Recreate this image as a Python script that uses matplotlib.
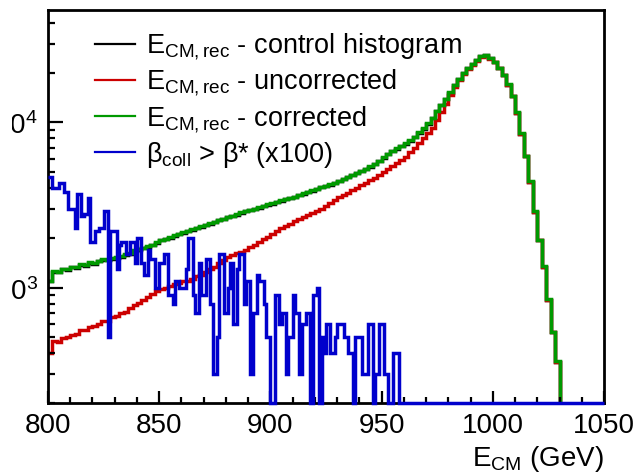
import numpy as np
import matplotlib
matplotlib.use("Agg")
import matplotlib.pyplot as plt
import matplotlib.transforms as mtransforms
from matplotlib.lines import Line2D
from matplotlib.ticker import LogLocator, MultipleLocator, NullFormatter

# E_CM histograms, 2 GeV bins from 800 to 1050 GeV
edges_2gev = np.arange(800, 1051, 2)

control = [
    1090, 1250, 1240, 1300, 1280, 1330, 1320, 1370, 1360, 1410, 1390, 1440, 1470, 1460, 1500, 1520, 1540, 1580, 1600, 1660, 1700, 1730, 1770, 1810, 1860,
    1930, 1970, 2010, 2060, 2100, 2140, 2190, 2240, 2280, 2340, 2390, 2440, 2490, 2550, 2610, 2660, 2720, 2770, 2830, 2890, 2940, 3000, 3050, 3120, 3170,
    3230, 3300, 3360, 3430, 3490, 3550, 3620, 3700, 3780, 3860, 3950, 4040, 4120, 4210, 4310, 4430, 4540, 4670, 4800, 4940, 5080, 5230, 5400, 5580, 5820,
    6100, 6400, 6700, 6950, 7200, 7450, 7750, 8150, 8650, 9150, 9850, 10650, 11700, 12750, 13850, 15150, 16750, 18350, 19850, 21250, 22550, 23950, 25150, 25450, 24550,
    23150, 21350, 19350, 16950, 14450, 11450, 8550, 6250, 4380, 2880, 1940, 1340, 845, 535, 355, 175, 0, 0, 0, 0, 0, 0, 0, 0, 0,
]

uncorrected = [
    400, 475, 470, 495, 500, 515, 525, 550, 550, 575, 585, 600, 625, 630, 660, 670, 705, 715, 750, 780, 805, 840, 875, 915, 950,
    980, 1000, 1020, 1050, 1060, 1090, 1100, 1130, 1170, 1200, 1240, 1290, 1330, 1400, 1460, 1530, 1570, 1610, 1650, 1700, 1750, 1820, 1900, 1960, 2030,
    2120, 2200, 2280, 2360, 2440, 2520, 2600, 2680, 2750, 2830, 2910, 3000, 3120, 3250, 3380, 3520, 3640, 3760, 3880, 4030, 4180, 4320, 4460, 4620, 4800,
    5000, 5200, 5450, 5700, 5900, 6200, 6600, 7000, 7500, 8000, 8600, 9300, 10300, 11500, 12900, 14600, 16400, 18100, 19700, 21100, 22400, 23700, 24900, 25200, 24400,
    23100, 21300, 19300, 16900, 14400, 11450, 8550, 6250, 4380, 2880, 1940, 1340, 845, 535, 355, 175, 0, 0, 0, 0, 0, 0, 0, 0, 0,
]

corrected = [
    1100, 1260, 1250, 1300, 1290, 1340, 1330, 1380, 1370, 1420, 1400, 1450, 1480, 1470, 1520, 1540, 1560, 1600, 1610, 1680, 1720, 1740, 1790, 1820, 1880,
    1950, 1980, 2030, 2080, 2110, 2160, 2200, 2260, 2290, 2360, 2400, 2460, 2500, 2570, 2620, 2680, 2730, 2780, 2850, 2900, 2950, 3010, 3070, 3130, 3190,
    3240, 3320, 3380, 3440, 3500, 3560, 3640, 3720, 3800, 3880, 3970, 4060, 4140, 4230, 4330, 4450, 4560, 4690, 4820, 4960, 5100, 5250, 5420, 5600, 5850,
    6150, 6450, 6750, 7000, 7250, 7500, 7800, 8200, 8700, 9200, 9900, 10700, 11800, 12800, 13900, 15200, 16800, 18400, 19900, 21300, 22600, 24000, 25200, 25500, 24600,
    23200, 21400, 19400, 17000, 14500, 11500, 8600, 6300, 4400, 2900, 1950, 1350, 850, 540, 360, 180, 0, 0, 0, 0, 0, 0, 0, 0, 0,
]

# beta_coll > beta* counts in 1 GeV bins from 800 GeV (in units of 100, i.e. x100 scaling)
edges_1gev = np.arange(800, 1051, 1)
beta_counts = [
    47, 47, 40, 40, 40, 43, 43, 38, 38, 30,
    30, 30, 23, 37, 37, 27, 28, 28, 35, 19,
    19, 22, 22, 23, 23, 29, 29, 5, 22, 22,
    22, 13, 18, 19, 19, 16, 16, 19, 19, 14,
    20, 20, 14, 12, 12, 17, 15, 15, 10, 10,
    14, 14, 16, 16, 9, 9, 8, 11, 11, 10,
    10, 10, 13, 20, 20, 9, 7, 7, 14, 9,
    9, 15, 15, 8, 3, 3, 5, 16, 16, 7,
    7, 10, 14, 6, 6, 13, 16, 16, 8, 11,
    11, 3, 7, 7, 12, 11, 11, 8, 5, 5,
    0, 0, 9, 9, 6, 7, 7, 3, 5, 5,
    9, 7, 7, 3, 6, 6, 7, 7, 0, 9,
    9, 10, 0, 5, 4, 6, 6, 4, 4, 5,
    6, 6, 6, 5, 5, 4, 4, 0, 5, 5,
    5, 3, 3, 3, 6, 6, 0, 3, 3, 6,
    6, 3, 3, 0, 0, 4, 4, 4,
]

labels = [
    r"$E_{CM,rec}$ - control histogram",
    r"$E_{CM,rec}$ - uncorrected",
    r"$E_{CM,rec}$ - corrected",
    r"$\beta_{coll}$ > $\beta$* (x100)",
]
colors = ["black", "#cc0000", "#009900", "#0000cc"]

y_lo, y_hi = 200, 4.8e4

plt.rcParams["font.family"] = ["Liberation Sans", "DejaVu Sans"]
plt.rcParams["mathtext.fontset"] = "custom"
plt.rcParams["mathtext.rm"] = "Liberation Sans"
plt.rcParams["mathtext.it"] = "Liberation Sans"
plt.rcParams["mathtext.default"] = "regular"

fig = plt.figure(figsize=(6.38, 4.75), dpi=100)
ax = fig.add_axes([48 / 638, 72 / 475, 556 / 638, 393 / 475])

blue = np.concatenate([beta_counts, np.zeros(len(edges_1gev) - 1 - len(beta_counts))]) * 100

lw = 2.5
ax.stairs(control, edges_2gev, baseline=None, color=colors[0], lw=lw)
ax.stairs(uncorrected, edges_2gev, baseline=None, color=colors[1], lw=lw)
ax.stairs(corrected, edges_2gev, baseline=None, color=colors[2], lw=lw)
ax.stairs(np.maximum(blue, y_lo), edges_1gev, baseline=None, color=colors[3],
          lw=lw, clip_on=False, zorder=3)

ax.set_yscale("log")
ax.set_xlim(800, 1050)
ax.set_ylim(y_lo, y_hi)

ax.xaxis.set_major_locator(MultipleLocator(50))
ax.xaxis.set_minor_locator(MultipleLocator(10))
ax.yaxis.set_major_locator(LogLocator(base=10))
ax.yaxis.set_minor_locator(LogLocator(base=10, subs=np.arange(2, 10)))
ax.yaxis.set_major_formatter(NullFormatter())
ax.yaxis.set_minor_formatter(NullFormatter())

ax.tick_params(which="both", direction="in", top=False, right=False, width=1.6)
ax.tick_params(axis="x", which="major", length=9, labelsize=20, pad=7)
ax.tick_params(axis="x", which="minor", length=4.3)
ax.tick_params(axis="y", which="major", length=11)
ax.tick_params(axis="y", which="minor", length=5)
for s in ax.spines.values():
    s.set_linewidth(2)

# decade labels; the left edge of the canvas cuts the leading "1"
trans = mtransforms.offset_copy(
    mtransforms.blended_transform_factory(ax.transAxes, ax.transData),
    fig=fig, x=-10, y=-12, units="dots")
clip = mtransforms.TransformedBbox(
    mtransforms.Bbox.from_extents(12 / 638, 0, 1, 1), fig.transFigure)
for e in (3, 4):
    t = ax.text(0, 10 ** e, rf"$10^{{{e}}}$", transform=trans, ha="right",
                va="baseline", fontsize=20, clip_on=True)
    t.set_clip_box(clip)

ax.set_xlabel(r"$E_{CM}$ (GeV)", loc="right", fontsize=20, labelpad=4)

handles = [Line2D([], [], color=c, lw=1.6) for c in colors]
ax.legend(handles, labels, loc="upper left", bbox_to_anchor=(0.0845, 0.945),
          frameon=False, fontsize=19.5, handlelength=1.48, handletextpad=0.4,
          labelspacing=0.2, borderaxespad=0, borderpad=0)

fig.savefig("out.png", dpi=100)
